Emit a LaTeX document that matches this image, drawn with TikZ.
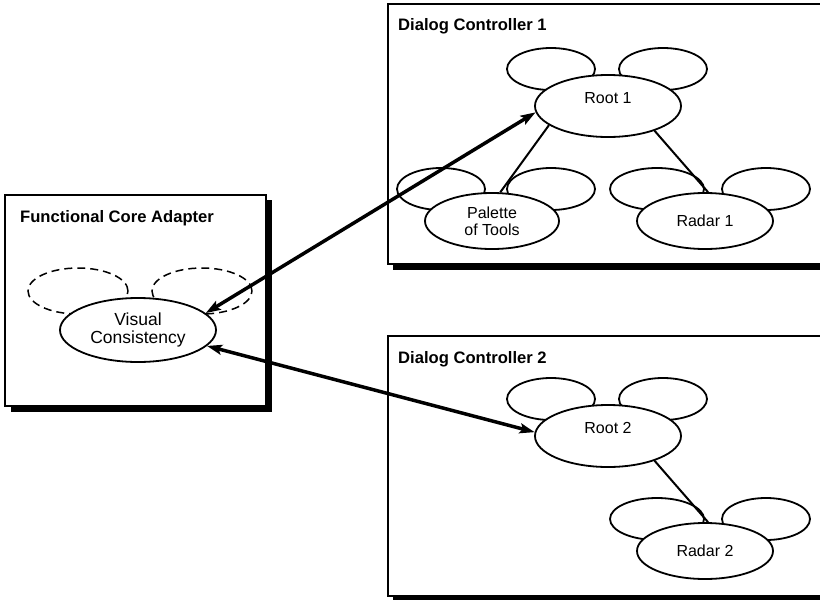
\documentclass[tikz,border=0pt]{standalone}
\usepackage{fontspec}
\setmainfont{Liberation Sans}
\usetikzlibrary{shapes.geometric,arrows.meta}
\begin{document}
\begin{tikzpicture}[x=1pt,y=-1pt,
  panel/.style={draw=black, line width=1.4pt, fill=white},
  panelshadow/.style={fill=black},
  title/.style={font=\fontsize{16.6}{18}\selectfont\bfseries, anchor=base west, inner sep=0pt},
  blob/.style={ellipse, draw, line width=1.8pt, fill=white, inner sep=0pt,
    font=\fontsize{16}{17}\selectfont, align=center},
  toplabel/.style={text height=12pt, text depth=18pt},
  ear/.style={ellipse, draw, line width=1.8pt, fill=white, inner sep=0pt,
    minimum width=88pt, minimum height=42pt},
  ghost/.style={ellipse, draw, line width=1.5pt, dash pattern=on 8pt off 5pt,
    inner sep=0pt, minimum width=100pt, minimum height=46pt},
  link/.style={line width=2pt},
  assoc/.style={line width=3.5pt, {Stealth[length=15pt, width=10pt, inset=3pt]}-{Stealth[length=15pt, width=10pt, inset=3pt]}}
]
\useasboundingbox (0,0) rectangle (820,600);
\clip (0,0) rectangle (820,600);

% panels with drop shadows
\fill[panelshadow] (11,200) rectangle (272,412);
\draw[panel] (5,195) rectangle (266,406);
\fill[panelshadow] (393,9) rectangle (835,270);
\draw[panel] (388,4) rectangle (830,264);
\fill[panelshadow] (393,341) rectangle (835,602);
\draw[panel] (388,336) rectangle (830,596);

\node[title] (tfca) at (20,222) {Functional Core Adapter};
\node[title] (tdc1) at (398,30) {Dialog Controller 1};
\node[title] (tdc2) at (398,363) {Dialog Controller 2};

% ears (drawn first, partly hidden by the main ellipses)
\node[ghost] (vcl) at (78,291) {};
\node[ghost] (vcr) at (202,291) {};

\node[ear] (r1l) at (551,69) {};
\node[ear] (r1r) at (663,69) {};
\node[ear] (pall) at (441,189) {};
\node[ear] (palr) at (551,189) {};
\node[ear, minimum width=94pt] (ra1l) at (657,189) {};
\node[ear] (ra1r) at (766,189) {};

\node[ear] (r2l) at (551,399) {};
\node[ear] (r2r) at (663,399) {};
\node[ear, minimum width=94pt] (ra2l) at (657,519) {};
\node[ear] (ra2r) at (766,519) {};

% main ellipses
\node[blob, font=\fontsize{17.5}{18.5}\selectfont, minimum width=156pt, minimum height=64pt] (vc) at (138,330) {Visual\\Consistency};
\node[blob, toplabel, minimum width=146pt, minimum height=62pt] (r1) at (608,106) {Root 1};
\node[blob, minimum width=134pt, minimum height=56pt] (pal) at (492,221) {Palette\\of Tools};
\node[blob, minimum width=136pt, minimum height=56pt] (ra1) at (705,221) {Radar 1};
\node[blob, toplabel, minimum width=146pt, minimum height=62pt] (r2) at (608,436) {Root 2};
\node[blob, minimum width=136pt, minimum height=56pt] (ra2) at (705,551) {Radar 2};

% tree links
\draw[link] (r1.198) -- (pal.74);
\draw[link] (r1.332) -- (ra1.84);
\draw[link] (r2.332) -- (ra2.84);

% associations between the adapter and the controllers
\draw[assoc] (vc.14) -- (r1.185);
\draw[assoc] (vc.347) -- (r2.177);
\end{tikzpicture}
\end{document}
